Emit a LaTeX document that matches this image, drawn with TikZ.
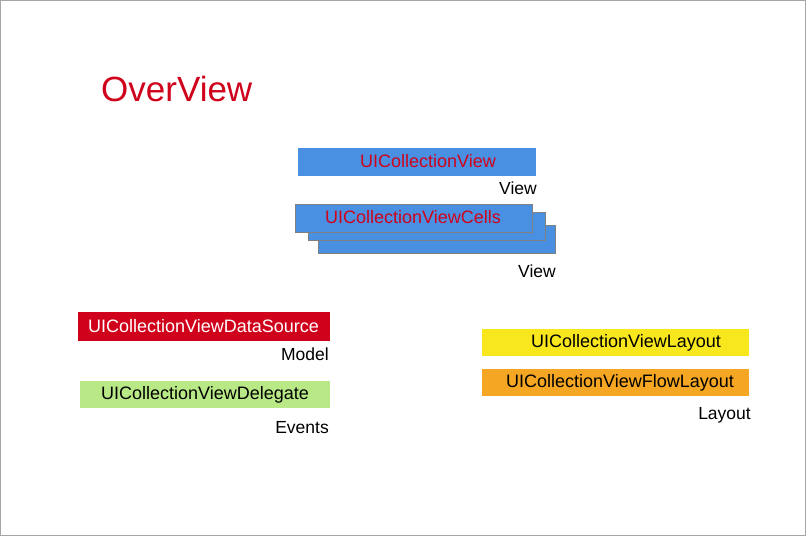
\documentclass[tikz,border=0pt]{standalone}
\usepackage{fontspec}
\setmainfont{Liberation Sans}
\definecolor{kred}{HTML}{D0021B}
\definecolor{kblue}{HTML}{4A90E2}
\definecolor{kgreen}{HTML}{B8E986}
\definecolor{kyellow}{HTML}{F8E71C}
\definecolor{korange}{HTML}{F5A623}
\begin{document}
\begin{tikzpicture}[x=1pt,y=-1pt,
  lbl/.style={anchor=east,inner sep=0pt,font=\fontsize{17.5}{20}\selectfont},
  btxt/.style={inner sep=0pt,font=\fontsize{18}{20}\selectfont}]
\useasboundingbox (0,0) rectangle (806,536);
\draw[gray!70,line width=1pt] (0.5,0.5) rectangle (805.5,535.5);
\node[anchor=west,inner sep=0pt,text=kred,font=\fontsize{35}{40}\selectfont] (title) at (101,89) {OverView};
% UICollectionView
\fill[kblue] (298,148) rectangle (536,176);
\node[btxt,text=kred] (cv) at (428,161) {UICollectionView};
\node[lbl] (v1) at (537,188) {View};
% cells
\filldraw[fill=kblue,draw=gray,line width=1pt] (318,225) rectangle (555,253);
\filldraw[fill=kblue,draw=gray,line width=1pt] (308,212) rectangle (545,240);
\filldraw[fill=kblue,draw=gray,line width=1pt] (295,204) rectangle (532,232);
\node[btxt,text=kred] (cells) at (413,217) {UICollectionViewCells};
\node[lbl] (v2) at (556,271) {View};
% data source
\fill[kred] (78,312) rectangle (330,341);
\node[btxt,text=white] (ds) at (203.5,326.5) {UICollectionViewDataSource};
\node[lbl] (model) at (329,354) {Model};
% delegate
\fill[kgreen] (80,381) rectangle (330,408);
\node[btxt] (dg) at (205,394.5) {UICollectionViewDelegate};
\node[lbl] (events) at (329,428) {Events};
% layout
\fill[kyellow] (482,329) rectangle (749,356);
\node[btxt] (lay) at (626,343) {UICollectionViewLayout};
\fill[korange] (482,369) rectangle (749,396);
\node[btxt] (flow) at (620,382.5) {UICollectionViewFlowLayout};
\node[lbl] (layout) at (751,415) {Layout};
\end{tikzpicture}
\end{document}
